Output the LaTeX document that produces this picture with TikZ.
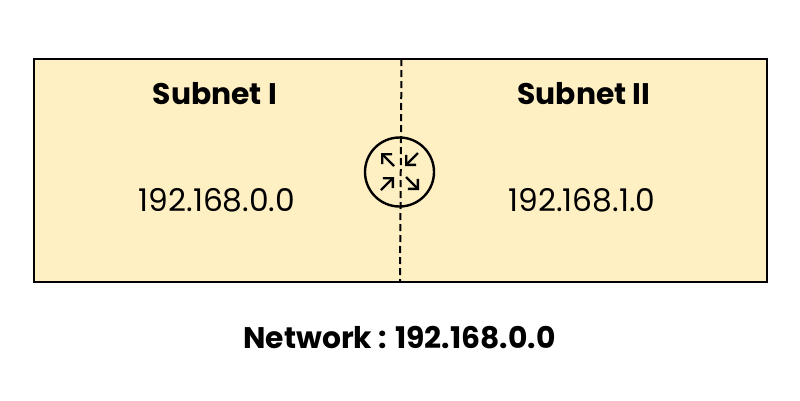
\documentclass[tikz,border=0pt]{standalone}
\usepackage{fontspec}
\setmainfont{Poppins}
\usetikzlibrary{positioning,arrows.meta}
\definecolor{subnetfill}{HTML}{FFF0C4}
\tikzset{
  titletext/.style={font=\fontsize{29.8pt}{34pt}\selectfont\bfseries},
  addrtext/.style={font=\fontsize{31.3pt}{36pt}\selectfont},
  routerarrow/.style={-{Straight Barb[length=7pt,width=14pt,angle'=90]},line width=2.4pt},
}
\begin{document}
\begin{tikzpicture}[x=1pt,y=-1pt]
  \useasboundingbox (0,0) rectangle (800,400);
  \node[fill=subnetfill,draw=black,line width=2pt,minimum width=733pt,minimum height=223pt,inner sep=0pt] (net) at (400.5,170.5) {};
  \coordinate (top) at (401.5,59);
  \coordinate (bot) at (400,282);
  \draw[line width=2pt,dash pattern=on 7pt off 4pt] (top) -- (bot);
  \node[titletext] (sub1) at (215,93.5) {Subnet I};
  \node[titletext] (sub2) at (584,93.5) {Subnet II};
  \node[addrtext] (addr1) at (217,200) {192.168.0.0};
  \node[addrtext] (addr2) at (582,200) {192.168.1.0};
  \node[titletext] (netlabel) at (399.5,338) {Network : 192.168.0.0};
  \node[circle,draw=black,line width=2.4pt,minimum size=69pt,inner sep=0pt] (router) at (399.5,172) {};
  % arrows in the router
  \draw[routerarrow] (394,166) -- (381,153);
  \draw[routerarrow] (418,153) -- (405,166);
  \draw[routerarrow] (381,190) -- (394,177);
  \draw[routerarrow] (406,177) -- (419,190);
\end{tikzpicture}
\end{document}
